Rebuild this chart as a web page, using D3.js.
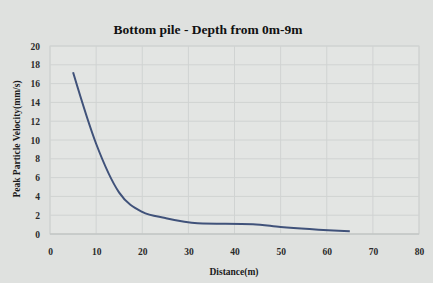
<!DOCTYPE html>
<html><head><meta charset="utf-8">
<script src="https://cdn.jsdelivr.net/npm/d3@7"></script>
<style>
html,body{margin:0;padding:0;background:#dfe1df;}
svg{display:block;}
text{font-family:"Liberation Serif","DejaVu Serif",serif;font-weight:bold;}
</style></head>
<body>
<svg id="c" width="433" height="283"></svg>
<script>
const title = "Bottom pile - Depth from 0m-9m";
const xLabel = "Distance(m)";
const yLabel = "Peak Particle Velocity(mm/s)";
const distance = [5, 10, 15, 20, 25, 32, 44, 50, 65];
const ppv = [17.2, 9.6, 4.4, 2.35, 1.7, 1.15, 1.05, 0.75, 0.3];
const xTicks = [0, 10, 20, 30, 40, 50, 60, 70, 80];
const yTicks = [0, 2, 4, 6, 8, 10, 12, 14, 16, 18, 20];

const svg = d3.select("#c");
const pL = 50, pR = 419, pT = 46, pB = 234;
const x = d3.scaleLinear().domain([0, 80]).range([pL, pR]);
const y = d3.scaleLinear().domain([0, 20]).range([pB, pT]);

// plot area
svg.append("rect").attr("x", pL).attr("y", pT).attr("width", pR - pL).attr("height", pB - pT)
  .attr("fill", "#e3e5e3").attr("stroke", "#ced1d0").attr("stroke-width", 1);

// gridlines
svg.append("g").selectAll("line").data(yTicks).join("line")
  .attr("x1", pL).attr("x2", pR).attr("y1", d => y(d)).attr("y2", d => y(d))
  .attr("stroke", "#d0d3d2").attr("stroke-width", 1);
svg.append("g").selectAll("line").data(xTicks).join("line")
  .attr("y1", pT).attr("y2", pB).attr("x1", d => x(d)).attr("x2", d => x(d))
  .attr("stroke", "#d0d3d2").attr("stroke-width", 1);
svg.append("line").attr("x1", pL).attr("x2", pR).attr("y1", pB).attr("y2", pB)
  .attr("stroke", "#bcc0bf").attr("stroke-width", 1);

// axes via d3
const gx = svg.append("g").attr("transform", `translate(0,${pB})`)
  .call(d3.axisBottom(x).tickValues(xTicks).tickSize(0).tickPadding(14));
gx.select(".domain").remove();
gx.selectAll("text").attr("font-size", 9.5).attr("fill", "#2a2a2a")
  .style("font-family", '"Liberation Serif",serif').style("font-weight", "bold");

const gy = svg.append("g").attr("transform", `translate(${pL},0)`)
  .call(d3.axisLeft(y).tickValues(yTicks).tickSize(0).tickPadding(10));
gy.select(".domain").remove();
gy.selectAll("text").attr("font-size", 9.5).attr("fill", "#2a2a2a")
  .style("font-family", '"Liberation Serif",serif').style("font-weight", "bold");

// line
const line = d3.line().x((d, i) => x(distance[i])).y(d => y(d)).curve(d3.curveMonotoneX);
svg.append("path").datum(ppv).attr("d", line).attr("fill", "none")
  .attr("stroke", "#40527a").attr("stroke-width", 2);

// titles
svg.append("text").attr("x", 208).attr("y", 34).attr("text-anchor", "middle")
  .attr("font-size", 13.5).attr("fill", "#111").text(title);
svg.append("text").attr("x", 234).attr("y", 275).attr("text-anchor", "middle")
  .attr("font-size", 9.5).attr("fill", "#1a1a1a").text(xLabel);
svg.append("text").attr("transform", "translate(20,139) rotate(-90)").attr("text-anchor", "middle")
  .attr("font-size", 9.5).attr("fill", "#1a1a1a").text(yLabel);
</script>
</body></html>
